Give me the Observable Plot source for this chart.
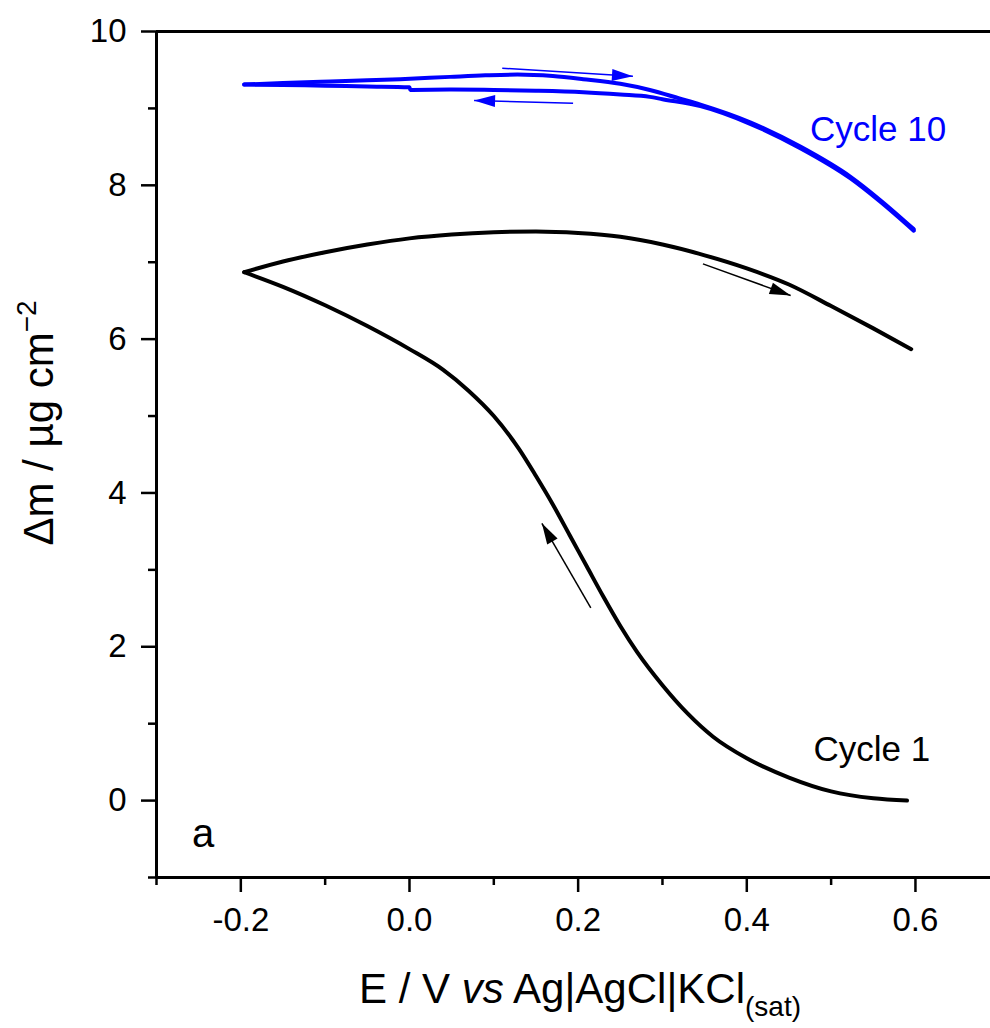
<!DOCTYPE html>
<html>
<head>
<meta charset="utf-8">
<script src="https://cdn.jsdelivr.net/npm/d3@7"></script>
<script src="https://cdn.jsdelivr.net/npm/@observablehq/plot@0.6"></script>
<style>
  html, body { margin: 0; padding: 0; background: #fff; }
  #chart svg { display: block; }
</style>
</head>
<body>
<div id="chart"></div>
<script>
// ---- Data (E in V vs Ag|AgCl|KCl(sat), Δm in µg cm^-2) ----
// Cycle 1, cathodic branch (0.59 -> -0.2)
const c1CathE = [0.59, 0.55, 0.50, 0.45, 0.40, 0.36, 0.33, 0.30, 0.27, 0.25, 0.23, 0.21, 0.19, 0.17, 0.15, 0.13, 0.10, 0.07, 0.04, 0.00, -0.05, -0.10, -0.15, -0.196];
const c1CathM = [0.00, 0.03, 0.12, 0.30, 0.55, 0.83, 1.13, 1.50, 1.93, 2.27, 2.65, 3.05, 3.45, 3.85, 4.22, 4.57, 5.00, 5.33, 5.60, 5.87, 6.17, 6.44, 6.68, 6.87];
// Cycle 1, anodic branch (-0.2 -> 0.6)
const c1AnodE = [-0.196, -0.15, -0.10, -0.05, 0.00, 0.05, 0.10, 0.15, 0.20, 0.25, 0.30, 0.35, 0.40, 0.45, 0.50, 0.55, 0.595];
const c1AnodM = [6.87, 7.01, 7.13, 7.23, 7.31, 7.36, 7.39, 7.40, 7.38, 7.33, 7.23, 7.09, 6.92, 6.71, 6.43, 6.14, 5.87];
// Cycle 10, anodic branch (-0.2 -> 0.6)
const c10AnodE = [-0.196, -0.15, -0.094, -0.05, -0.011, 0.048, 0.09, 0.128, 0.17, 0.206, 0.25, 0.285, 0.32, 0.345, 0.404, 0.464, 0.523, 0.558, 0.598];
const c10AnodM = [9.31, 9.33, 9.35, 9.365, 9.38, 9.41, 9.43, 9.44, 9.42, 9.38, 9.32, 9.24, 9.13, 9.05, 8.82, 8.50, 8.11, 7.81, 7.43];
// Cycle 10, cathodic branch (0.6 -> -0.2)
const c10CathE = [0.598, 0.558, 0.523, 0.464, 0.404, 0.345, 0.30, 0.285, 0.25, 0.206, 0.15, 0.10, 0.05, 0.001, 0.00, -0.05, -0.10, -0.15, -0.196];
const c10CathM = [7.41, 7.79, 8.09, 8.48, 8.80, 9.03, 9.12, 9.15, 9.18, 9.21, 9.23, 9.24, 9.245, 9.24, 9.275, 9.285, 9.295, 9.305, 9.31];

// Direction arrows (start -> tip, data units)
const arrowE1 = [0.110, 0.194, 0.348, 0.215];
const arrowM1 = [9.523, 9.068, 6.979, 2.506];
const arrowE2 = [0.265, 0.0766, 0.452, 0.157];
const arrowM2 = [9.418, 9.103, 6.567, 3.606];
const arrowSeries = ["Cycle 10", "Cycle 10", "Cycle 1", "Cycle 1"];

// Annotations
const labelText = ["Cycle 10", "Cycle 1", "a"];
const labelE = [0.475, 0.479, -0.258];
const labelM = [8.57, 0.51, -0.60];
const labelSeries = ["Cycle 10", "Cycle 1", "panel"];

// Axes
const xMajorTicks = [-0.2, 0.0, 0.2, 0.4, 0.6];
const xMinorTicks = [-0.3, -0.1, 0.1, 0.3, 0.5];
const yMajorTicks = [0, 2, 4, 6, 8, 10];
const yMinorTicks = [-1, 1, 3, 5, 7, 9];
const xDomain = [-0.3, 0.689];
const yDomain = [-1, 10];

const colors = {"Cycle 1": "#000000", "Cycle 10": "#0000ff", "panel": "#000000"};

// ---- Tables built from arrays ----
const branch = (series, name, Es, Ms) => Es.map((E, i) => ({series, branch: name, E, m: Ms[i]}));
const curves = [
  ...branch("Cycle 1", "c1-cath", c1CathE, c1CathM),
  ...branch("Cycle 1", "c1-anod", c1AnodE, c1AnodM),
  ...branch("Cycle 10", "c10-anod", c10AnodE, c10AnodM),
  ...branch("Cycle 10", "c10-cath", c10CathE, c10CathM)
];
const arrows = arrowE1.map((_, i) => ({series: arrowSeries[i], E1: arrowE1[i], m1: arrowM1[i], E2: arrowE2[i], m2: arrowM2[i]}));
const labels = labelText.map((t, i) => ({text: t, E: labelE[i], m: labelM[i], series: labelSeries[i]}));

// ---- Layout ----
const W = 990, H = 1028;
const mL = 156, mR = 0, mT = 31, mB = 151;
const kx = (W - mL - mR) / (xDomain[1] - xDomain[0]);
const ky = (H - mT - mB) / (yDomain[1] - yDomain[0]);
arrows.forEach(a => {
  a.rot = Math.atan2((a.E2 - a.E1) * kx, (a.m2 - a.m1) * ky) * 180 / Math.PI;
});

const headShape = {
  draw(context, l, r) {
    context.moveTo(0, -l);
    context.lineTo(-r, 0);
    context.lineTo(r, 0);
    context.closePath();
  }
};

const font = "'Liberation Sans', Arial, Helvetica, sans-serif";

const plot = Plot.plot({
  width: W, height: H,
  marginLeft: mL, marginRight: mR, marginTop: mT, marginBottom: mB,
  x: {domain: xDomain},
  y: {domain: yDomain},
  style: {fontFamily: font, fontSize: "33px", color: "#000", background: "#fff", overflow: "visible"},
  marks: [
    // frame lines
    Plot.ruleX([xDomain[0]], {y1: yDomain[0], y2: yDomain[1], stroke: "#000", strokeWidth: 3}),
    Plot.ruleY([yDomain[0]], {x1: xDomain[0], x2: xDomain[1], stroke: "#000", strokeWidth: 3}),
    Plot.ruleY([yDomain[1]], {x1: xDomain[0], x2: xDomain[1], stroke: "#000", strokeWidth: 3}),
    // ticks
    Plot.axisX(xMajorTicks, {anchor: "bottom", tickSize: 15, tickPadding: 15, strokeWidth: 2.5, tickFormat: d => d.toFixed(1), fontSize: 33}),
    Plot.axisX(xMinorTicks, {anchor: "bottom", tickSize: 8, strokeWidth: 2.5, tickFormat: () => ""}),
    Plot.axisY(yMajorTicks, {anchor: "left", tickSize: 15, tickPadding: 15, strokeWidth: 2.5, tickFormat: d => String(d), fontSize: 33}),
    Plot.axisY(yMinorTicks, {anchor: "left", tickSize: 8, strokeWidth: 2.5, tickFormat: () => ""}),
    // curves
    Plot.line(curves, {x: "E", y: "m", z: "branch", stroke: d => colors[d.series], strokeWidth: 4, curve: "monotone-x", strokeLinejoin: "round", strokeLinecap: "round"}),
    // arrows
    Plot.link(arrows, {x1: "E1", y1: "m1", x2: "E2", y2: "m2", stroke: d => colors[d.series], strokeWidth: 1.5}),
    Plot.vector(arrows, {x: "E2", y: "m2", rotate: "rot", length: 21, r: 6, anchor: "end", shape: headShape, fill: d => colors[d.series], stroke: "none"}),
    // labels
    Plot.text(labels, {x: "E", y: "m", text: "text", fill: d => colors[d.series], textAnchor: "start", lineAnchor: "bottom", fontSize: d => d.series === "panel" ? 40 : 35})
  ]
});

const svg = d3.select(plot);
// y-axis title
const yt = svg.append("text")
  .attr("transform", "translate(53,423) rotate(-90)")
  .attr("text-anchor", "middle")
  .attr("font-family", font)
  .attr("font-size", 42)
  .attr("fill", "#000");
yt.append("tspan").text("Δm / µg cm");
yt.append("tspan").attr("dy", -17).attr("font-size", 28).text("−2");

// x-axis title
const xt = svg.append("text")
  .attr("x", 580).attr("y", 1003)
  .attr("text-anchor", "middle")
  .attr("font-family", font)
  .attr("font-size", 42)
  .attr("fill", "#000");
xt.append("tspan").text("E / V ");
xt.append("tspan").attr("font-style", "italic").text("vs");
xt.append("tspan").text(" Ag|AgCl|KCl");
xt.append("tspan").attr("dy", 13).attr("font-size", 28).text("(sat)");

document.getElementById("chart").appendChild(plot);
</script>
</body>
</html>
